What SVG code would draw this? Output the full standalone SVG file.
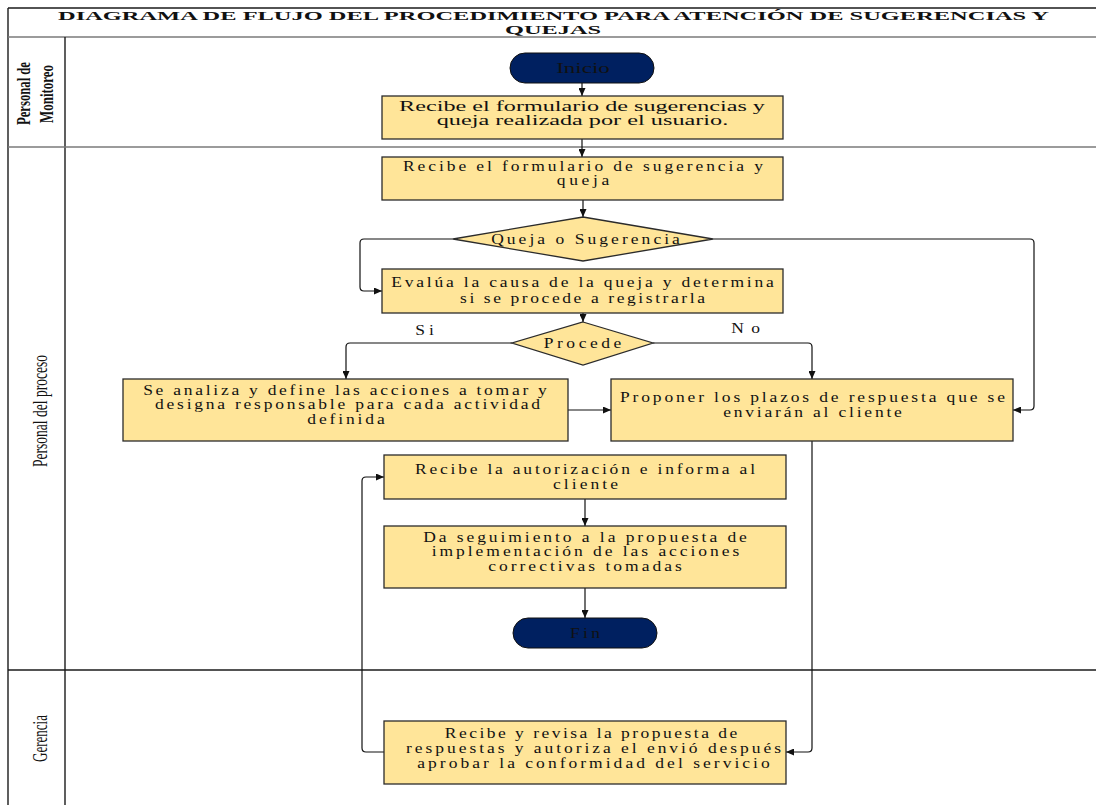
<svg xmlns="http://www.w3.org/2000/svg" width="1096" height="805" viewBox="0 0 1096 805">
  <style>
    .frame { stroke: #1a1a1a; stroke-width: 1.4; fill: none; }
    .frame-light { stroke: #7a7a7a; stroke-width: 1.4; fill: none; }
    .box { fill: #FFE599; stroke: #2b2b2b; stroke-width: 1.3; }
    .term { fill: #002060; stroke: #111; stroke-width: 1; }
    .txt { font-family: "Liberation Serif", "Times New Roman", serif; font-size: 14px; fill: #111; text-anchor: middle; }
    .title { font-family: "Liberation Serif", "Times New Roman", serif; font-size: 13px; font-weight: bold; fill: #111; text-anchor: middle; }
    .lane { font-family: "Liberation Serif", "Times New Roman", serif; font-size: 21px; fill: #111; text-anchor: middle; }
    .lane-b { font-family: "Liberation Serif", "Times New Roman", serif; font-size: 19px; font-weight: bold; fill: #111; text-anchor: middle; }
    .conn { fill: none; stroke: #111; stroke-width: 1.2; marker-end: url(#arrow); }
  </style>
  <defs>
    <marker id="arrow" markerWidth="8" markerHeight="7" refX="8" refY="3.5" orient="auto" markerUnits="userSpaceOnUse">
      <path d="M0,0 L8,3.5 L0,7 z" fill="#111"/>
    </marker>
  </defs>

  <!-- swimlane frame -->
  <g id="frame">
    <line class="frame" x1="8" y1="8" x2="1096" y2="8"/>
    <line class="frame" x1="8" y1="8" x2="8" y2="805"/>
    <line class="frame-light" x1="8" y1="37" x2="1096" y2="37"/>
    <line class="frame" x1="65" y1="37" x2="65" y2="805"/>
    <line class="frame-light" x1="8" y1="147" x2="1096" y2="147"/>
    <line class="frame" x1="8" y1="670" x2="1096" y2="670"/>
    <text class="title" x="553.5" y="20" textLength="991" lengthAdjust="spacingAndGlyphs">DIAGRAMA DE FLUJO DEL PROCEDIMIENTO PARA ATENCIÓN DE SUGERENCIAS Y</text>
    <text class="title" x="553" y="34" textLength="96" lengthAdjust="spacingAndGlyphs">QUEJAS</text>
  </g>

  <!-- lane headers -->
  <g id="lane-monitoreo">
    <text class="lane-b" transform="translate(30,93.5) rotate(-90)" textLength="63" lengthAdjust="spacingAndGlyphs">Personal de</text>
    <text class="lane-b" transform="translate(53,94) rotate(-90)" textLength="58" lengthAdjust="spacingAndGlyphs">Monitoreo</text>
  </g>
  <g id="lane-proceso">
    <text class="lane" transform="translate(47,411) rotate(-90)" textLength="112" lengthAdjust="spacingAndGlyphs">Personal del proceso</text>
  </g>
  <g id="lane-gerencia">
    <text class="lane" transform="translate(47,738.5) rotate(-90)" textLength="47" lengthAdjust="spacingAndGlyphs">Gerencia</text>
  </g>

  <!-- connectors -->
  <g id="connectors">
    <path class="conn" d="M582,83 V96"/>
    <path class="conn" d="M582,139 V157"/>
    <path class="conn" d="M583,200 V217"/>
    <path class="conn" d="M453,239 H364 Q360,239 360,243 V287 Q360,291 364,291 H382"/>
    <path class="conn" d="M713,239 H1030 Q1034,239 1034,243 V406 Q1034,410 1030,410 H1013"/>
    <path class="conn" d="M583,313 V322"/>
    <path class="conn" d="M512,343 H350 Q346,343 346,347 V379"/>
    <path class="conn" d="M653,343 H808 Q812,343 812,347 V379"/>
    <path class="conn" d="M568,410 H611"/>
    <path class="conn" d="M812,441 V748 Q812,752 808,752 H786"/>
    <path class="conn" d="M384,752 H366 Q362,752 362,748 V481 Q362,477 366,477 H384"/>
    <path class="conn" d="M585,499 V526"/>
    <path class="conn" d="M585,588 V618"/>
    <text class="txt" transform="translate(424.5,0) scale(1.25,1)" x="0" y="335" textLength="15" lengthAdjust="spacing">Si</text>
    <text class="txt" transform="translate(745.5,0) scale(1.25,1)" x="0" y="333" textLength="23" lengthAdjust="spacing">No</text>
  </g>

  <!-- nodes -->
  <g id="inicio">
    <rect class="term" x="510" y="53" width="144" height="30" rx="15" ry="15"/>
    <text class="txt" transform="translate(583,0) scale(1.25,1)" x="0" y="73" textLength="43" lengthAdjust="spacingAndGlyphs">Inicio</text>
  </g>

  <g id="recibe-formulario-monitoreo">
    <rect class="box" x="382" y="96" width="401" height="43"/>
    <text class="txt" transform="translate(582,0) scale(1.35,1)" x="0" y="111" textLength="271" lengthAdjust="spacingAndGlyphs">Recibe el formulario de sugerencias y</text>
    <text class="txt" transform="translate(582.5,0) scale(1.35,1)" x="0" y="125" textLength="216" lengthAdjust="spacingAndGlyphs">queja realizada por el usuario.</text>
  </g>

  <g id="recibe-formulario">
    <rect class="box" x="382" y="157" width="401" height="43"/>
    <text class="txt" transform="translate(583,0) scale(1.25,1)" x="0" y="171.5" textLength="288" lengthAdjust="spacing">Recibe el formulario de sugerencia y</text>
    <text class="txt" transform="translate(583,0) scale(1.25,1)" x="0" y="185.5" textLength="42" lengthAdjust="spacing">queja</text>
  </g>

  <g id="queja-o-sugerencia">
    <polygon class="box" points="583,217 713,239 583,261 453,239"/>
    <text class="txt" transform="translate(585.5,0) scale(1.25,1)" x="0" y="244" textLength="151" lengthAdjust="spacing">Queja o Sugerencia</text>
  </g>

  <g id="evalua-causa">
    <rect class="box" x="382" y="269" width="401" height="44"/>
    <text class="txt" transform="translate(582.5,0) scale(1.25,1)" x="0" y="287" textLength="306" lengthAdjust="spacing">Evalúa la causa de la queja y determina</text>
    <text class="txt" transform="translate(582.5,0) scale(1.25,1)" x="0" y="303" textLength="196" lengthAdjust="spacing">si se procede a registrarla</text>
  </g>

  <g id="procede">
    <polygon class="box" points="583,322 653,343 583,365 512,343"/>
    <text class="txt" transform="translate(582.5,0) scale(1.25,1)" x="0" y="348" textLength="62" lengthAdjust="spacing">Procede</text>
  </g>

  <g id="analiza-acciones">
    <rect class="box" x="123" y="379" width="445" height="62"/>
    <text class="txt" transform="translate(345,0) scale(1.25,1)" x="0" y="395" textLength="323" lengthAdjust="spacing">Se analiza y define las acciones a tomar y</text>
    <text class="txt" transform="translate(347.5,0) scale(1.25,1)" x="0" y="409.5" textLength="308" lengthAdjust="spacing">designa responsable para cada actividad</text>
    <text class="txt" transform="translate(346,0) scale(1.25,1)" x="0" y="424" textLength="62" lengthAdjust="spacing">definida</text>
  </g>

  <g id="proponer-plazos">
    <rect class="box" x="611" y="379" width="402" height="62"/>
    <text class="txt" transform="translate(812.5,0) scale(1.25,1)" x="0" y="402.5" textLength="308" lengthAdjust="spacing">Proponer los plazos de respuesta que se</text>
    <text class="txt" transform="translate(812.5,0) scale(1.25,1)" x="0" y="417.5" textLength="143" lengthAdjust="spacing">enviarán al cliente</text>
  </g>

  <g id="recibe-autorizacion">
    <rect class="box" x="384" y="455" width="402" height="44"/>
    <text class="txt" transform="translate(585,0) scale(1.25,1)" x="0" y="474.5" textLength="272" lengthAdjust="spacing">Recibe la autorización e informa al</text>
    <text class="txt" transform="translate(585.5,0) scale(1.25,1)" x="0" y="489" textLength="52" lengthAdjust="spacing">cliente</text>
  </g>

  <g id="seguimiento">
    <rect class="box" x="384" y="526" width="402" height="62"/>
    <text class="txt" transform="translate(585,0) scale(1.25,1)" x="0" y="542" textLength="259" lengthAdjust="spacing">Da seguimiento a la propuesta de</text>
    <text class="txt" transform="translate(585.5,0) scale(1.25,1)" x="0" y="556.5" textLength="246" lengthAdjust="spacing">implementación de las acciones</text>
    <text class="txt" transform="translate(585,0) scale(1.25,1)" x="0" y="571" textLength="155" lengthAdjust="spacing">correctivas tomadas</text>
  </g>

  <g id="fin">
    <rect class="term" x="513" y="618" width="144" height="30" rx="15" ry="15"/>
    <text class="txt" transform="translate(585,0) scale(1.25,1)" x="0" y="638" textLength="24" lengthAdjust="spacing">Fin</text>
  </g>

  <g id="revisa-propuesta">
    <rect class="box" x="384" y="721" width="402" height="63"/>
    <text class="txt" transform="translate(591,0) scale(1.25,1)" x="0" y="738" textLength="234" lengthAdjust="spacing">Recibe y revisa la propuesta de</text>
    <text class="txt" transform="translate(593.5,0) scale(1.25,1)" x="0" y="753" textLength="300" lengthAdjust="spacing">respuestas y autoriza el envió después</text>
    <text class="txt" transform="translate(593.5,0) scale(1.25,1)" x="0" y="768" textLength="282" lengthAdjust="spacing">aprobar la conformidad del servicio</text>
  </g>
</svg>
